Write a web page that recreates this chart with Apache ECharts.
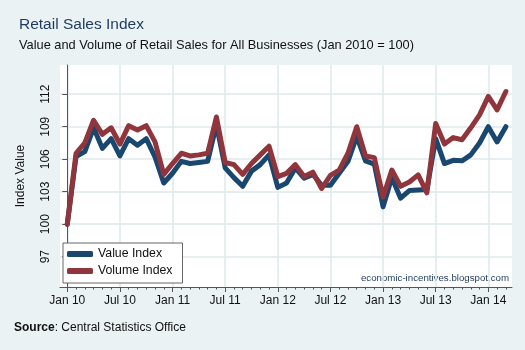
<!DOCTYPE html>
<html><head><meta charset="utf-8">
<script src="https://cdn.jsdelivr.net/npm/echarts@6/dist/echarts.min.js"></script>
<style>html,body{margin:0;padding:0;background:#eaf2f3}#c{width:525px;height:350px}</style>
</head><body><div id="c"></div>
<script>
const months = ["Jan 10","Feb 10","Mar 10","Apr 10","May 10","Jun 10","Jul 10","Aug 10","Sep 10","Oct 10","Nov 10","Dec 10",
"Jan 11","Feb 11","Mar 11","Apr 11","May 11","Jun 11","Jul 11","Aug 11","Sep 11","Oct 11","Nov 11","Dec 11",
"Jan 12","Feb 12","Mar 12","Apr 12","May 12","Jun 12","Jul 12","Aug 12","Sep 12","Oct 12","Nov 12","Dec 12",
"Jan 13","Feb 13","Mar 13","Apr 13","May 13","Jun 13","Jul 13","Aug 13","Sep 13","Oct 13","Nov 13","Dec 13",
"Jan 14","Feb 14","Mar 14"];
const valueIndex = [100,106.25,106.7,108.9,107.0,107.9,106.3,107.9,107.3,107.9,106.2,103.8,
104.7,105.8,105.6,105.7,105.8,109.2,105.2,104.3,103.5,104.9,105.5,106.4,
103.4,103.8,105.2,104.25,104.6,103.6,103.6,104.7,105.8,108.1,105.85,105.55,
101.6,104.3,102.4,103.1,103.15,103.2,107.9,105.6,105.9,105.85,106.4,107.5,
109.0,107.6,109.0];
const volumeIndex = [100,106.55,107.5,109.6,108.3,108.9,107.4,109.1,108.7,109.1,107.6,104.6,
105.6,106.55,106.3,106.4,106.55,109.9,105.7,105.5,104.6,105.6,106.4,107.2,
104.4,104.7,105.5,104.4,104.8,103.3,104.5,105.0,106.55,109.0,106.3,106.15,
102.5,105.0,103.5,103.9,104.55,102.9,109.3,107.4,108.0,107.8,108.9,110.1,
111.8,110.55,112.25];
const xTickLabels = ["Jan 10","Jul 10","Jan 11","Jul 11","Jan 12","Jul 12","Jan 13","Jul 13","Jan 14"];
const yTicks = [97,100,103,106,109,112];

const xMajor = xTickLabels.map(l => months.indexOf(l));
const xMinor = months.map((m, i) => i);
const toPairs = arr => arr.map((v, i) => [i, v]);

const chart = echarts.init(document.getElementById('c'), null, {renderer: 'canvas'});
const FONT = 'Liberation Sans, Arial, sans-serif';
const gridColor = '#dfe9eb';
const axisColor = '#555';
chart.setOption({
  backgroundColor: '#eaf2f3',
  animation: false,
  textStyle: {fontFamily: FONT},
  title: [
    {text: 'Retail Sales Index', left: 14, top: 12, textStyle: {fontFamily: FONT, fontSize: 15.5, fontWeight: 'normal', color: '#1c3a5e'}},
    {text: 'Value and Volume of Retail Sales for All Businesses (Jan 2010 = 100)', left: 14, top: 34, textStyle: {fontFamily: FONT, fontSize: 12.8, fontWeight: 'normal', color: '#111'}}
  ],
  grid: {left: 60, right: 13, top: 65, bottom: 63, show: true, backgroundColor: '#fff', borderWidth: 0},
  xAxis: [{
    type: 'value', min: -0.83, max: 50.7,
    axisLine: {show: true, onZero: false, lineStyle: {color: axisColor, width: 1}},
    axisTick: {show: true, customValues: xMajor, length: 5, lineStyle: {color: axisColor}},
    axisLabel: {customValues: xMajor, formatter: v => months[Math.round(v)] || '', fontSize: 12, color: '#111', margin: 8, fontFamily: FONT},
    splitLine: {show: true, lineStyle: {color: gridColor, width: 1.5}}
  }, {
    type: 'value', min: -0.83, max: 50.7, position: 'bottom',
    axisLine: {show: false},
    axisTick: {show: true, customValues: xMinor, length: 2.5, lineStyle: {color: axisColor}},
    axisLabel: {show: false},
    splitLine: {show: false}
  }],
  yAxis: {
    type: 'value', min: 94.2, max: 114.7,
    name: 'Index Value', nameLocation: 'middle', nameGap: 33,
    nameTextStyle: {fontSize: 12, color: '#111', fontFamily: FONT},
    axisLine: {show: true, lineStyle: {color: axisColor, width: 1}},
    axisTick: {show: true, customValues: yTicks, length: 5, lineStyle: {color: axisColor}},
    axisLabel: {customValues: yTicks, rotate: 90, fontSize: 12, color: '#111', margin: 8, fontFamily: FONT},
    splitLine: {show: true, lineStyle: {color: gridColor, width: 1.5}}
  },
  legend: {
    orient: 'vertical', left: 63, top: 243,
    backgroundColor: '#fff', borderColor: '#666', borderWidth: 1, borderRadius: 0,
    padding: [5, 10, 6, 4], itemGap: 5, itemWidth: 26, itemHeight: 6,
    icon: 'roundRect',
    textStyle: {fontSize: 12.3, color: '#111', fontFamily: FONT},
    data: ['Value Index', 'Volume Index']
  },
  graphic: [
    {type: 'text', right: 16, top: 273, style: {text: 'economic-incentives.blogspot.com', font: '9.7px ' + FONT, fill: '#1c3a5e'}},
    {type: 'text', left: 14, top: 322, style: {
      text: '{b|Source}: Central Statistics Office',
      rich: {b: {fontWeight: 'bold', fontSize: 12, fontFamily: FONT, fill: '#111'}},
      font: '12px ' + FONT, fill: '#111'}}
  ],
  series: [
    {name: 'Value Index', type: 'line', data: toPairs(valueIndex), showSymbol: false, symbol: 'none',
     lineStyle: {color: '#1a476f', width: 5, cap: 'round', join: 'round'}, itemStyle: {color: '#1a476f'}},
    {name: 'Volume Index', type: 'line', data: toPairs(volumeIndex), showSymbol: false, symbol: 'none',
     lineStyle: {color: '#90353b', width: 5, cap: 'round', join: 'round'}, itemStyle: {color: '#90353b'}}
  ]
});
</script></body></html>
